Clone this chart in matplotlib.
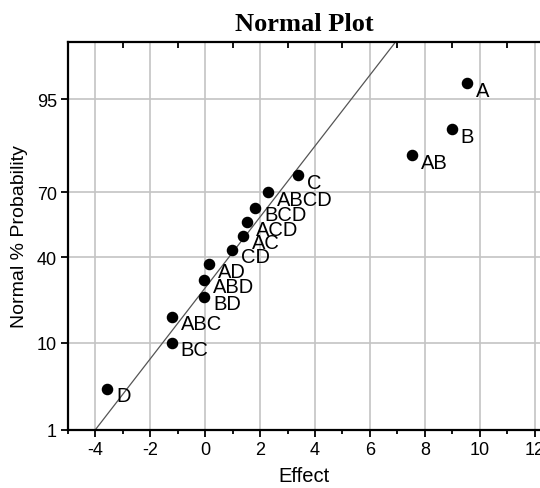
from statistics import NormalDist
import numpy as np
import matplotlib.pyplot as plt

# effects, sorted small -> large
labels = ["D", "BC", "ABC", "BD", "ABD", "AD", "CD", "AC", "ACD", "BCD",
          "ABCD", "C", "AB", "B", "A"]
effects = [-3.58, -1.22, -1.20, -0.04, -0.04, 0.15, 0.99, 1.39, 1.53, 1.82,
           2.30, 3.39, 7.52, 8.98, 9.53]

# reference line (normal fit): mean and sd of effect
line_mean = 1.46
line_sd = 2.35

y_ticks = [1, 10, 40, 70, 95]

_nd = NormalDist()
_ppf = np.vectorize(lambda p: _nd.inv_cdf(min(max(p / 100.0, 1e-9), 1 - 1e-9)),
                    otypes=[float])
_cdf = np.vectorize(lambda z: 100.0 * _nd.cdf(z), otypes=[float])

n = len(effects)
probs = [100.0 * (i + 0.5) / n for i in range(n)]

plt.rcParams['font.family'] = ['Liberation Sans', 'DejaVu Sans']
plt.rcParams['axes.unicode_minus'] = False

fig = plt.figure(figsize=(5.4, 4.89), dpi=100)
ax = fig.add_axes([0.126, 0.119, 0.874, 0.7925])
ax.set_yscale('function', functions=(_ppf, _cdf))

ax.set_xlim(-5, 12.2)
ax.set_ylim(1, 99)

# fitted line
lx = np.array([-4.0, 7.5])
ly = _cdf((lx - line_mean) / line_sd)
ax.plot(lx, ly, color='#555555', lw=0.9, zorder=2)

ax.plot(effects, probs, 'o', color='black', ms=7.3, zorder=3)
for lab, x, p in zip(labels, effects, probs):
    ax.annotate(lab, (x, p), xytext=(6.5, -5), textcoords='offset points',
                ha='left', va='center', fontsize=14.5)

ax.set_xticks(np.arange(-4, 13, 2))
ax.set_xticks(np.arange(-5, 13, 1), minor=True)
ax.set_yticks(y_ticks)
ax.set_yticklabels([str(t) for t in y_ticks])
ax.yaxis.set_minor_locator(plt.NullLocator())
ax.grid(True, which='major', color='#c4c4c4', lw=1.2)
ax.set_axisbelow(True)

ax.tick_params(axis='both', which='major', direction='out', length=5, width=1.3,
               labelsize=13, pad=3)
ax.tick_params(axis='x', which='minor', direction='out', length=3, width=1.3)
for s in ['left', 'bottom', 'top']:
    ax.spines[s].set_linewidth(1.6)
ax.spines['right'].set_visible(False)

top = ax.secondary_xaxis('top')
top.set_xticks(np.arange(-3, 13, 2))
top.tick_params(direction='in', length=4, width=1.3, labeltop=False)
top.spines['top'].set_visible(False)

ax.set_xlabel('Effect', fontsize=14.5, labelpad=6)
ax.set_ylabel('Normal % Probability', fontsize=14, labelpad=6)
ax.set_title('Normal Plot', fontsize=19, fontweight='bold',
             family='Liberation Serif', pad=9)

fig.savefig('out.png', dpi=100)
